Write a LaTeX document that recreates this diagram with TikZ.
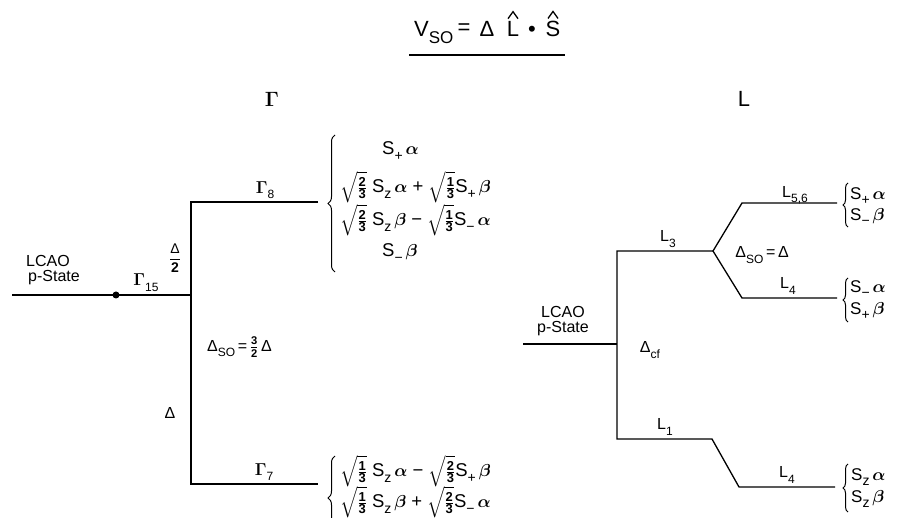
\documentclass[tikz,border=0pt]{standalone}
\usepackage{fontspec}
\usepackage{amsmath}
\setmainfont{Liberation Sans}
\usetikzlibrary{decorations.pathreplacing}
\newcommand\sub[1]{\raisebox{-0.32em}{\fontsize{12}{12}\selectfont #1}}
\newcommand\fsub[1]{\raisebox{-0.3em}{\fontsize{14}{14}\selectfont #1}}
\newcommand\Splus{S\fsub{+}}
\newcommand\Sminus{S\fsub{−}}
\newcommand\Szz{S\fsub{z}}
\newcommand\al{$\boldsymbol{\alpha}$}
\newcommand\be{$\boldsymbol{\beta}$}
\newcommand\Gm{$\boldsymbol{\Gamma}$}
\newcommand\gp{\hspace{5pt}}
\newcommand\sg{\hspace{3pt}}
\newcommand\rt[2]{$\sqrt{\tfrac{\text{\bfseries #1}}{\text{\bfseries #2}}}$}
\begin{document}
\begin{tikzpicture}[x=1pt,y=-1pt,
  every node/.style={font=\fontsize{16}{17}\selectfont, inner sep=1pt},
  frm/.style={font=\fontsize{18.5}{19}\selectfont, anchor=west},
  rfrm/.style={font=\fontsize{17}{18}\selectfont, anchor=west},
  lvl/.style={line width=1.3pt},
  br/.style={decorate, decoration={brace, amplitude=6pt}, line width=1pt},
  hdr/.style={font=\fontsize{22}{24}\selectfont},
  ttl/.style={font=\fontsize{22}{24}\selectfont, anchor=base, inner sep=0pt}]
\useasboundingbox (0,0) rectangle (899,518);

% title
\node[ttl, anchor=base west] (tV) at (414,37) {V\raisebox{-0.3em}{\fontsize{17}{17}\selectfont SO}};
\node[ttl] (tEq) at (464,35) {=};
\node[ttl] (tD) at (487,37) {Δ};
\node[ttl] (tL) at (513,37) {L};
\node[ttl] (tDot) at (532,37) {•};
\node[ttl] (tS) at (553,37) {S};
\coordinate (ul1) at (409,55);
\coordinate (ul2) at (565,55);
\draw[lvl] (ul1) -- (ul2);
\draw[line width=1.3pt] ([xshift=-5pt,yshift=3pt]tL.north) -- ([yshift=10pt]tL.north) -- ([xshift=5pt,yshift=3pt]tL.north);
\draw[line width=1.3pt] ([xshift=-5pt,yshift=3pt]tS.north) -- ([yshift=10pt]tS.north) -- ([xshift=5pt,yshift=3pt]tS.north);

\node[hdr] (gam) at (272,99) {\Gm};
\node[hdr] (ell) at (744,99) {L};

% ---------------- left diagram
\coordinate (L0) at (12,295);
\coordinate (Lj) at (191,295);
\coordinate (G8a) at (191,202);
\coordinate (G8b) at (318,202);
\coordinate (G7a) at (191,484);
\coordinate (G7b) at (318,484);
\draw[lvl] (L0) -- (Lj);
\draw[lvl] (G8b) -- (G8a) -- (G7a) -- (G7b);
\node[circle, fill, inner sep=0pt, minimum size=7pt] (dot) at (116,295) {};

\node[anchor=base west] (lcaoA) at (25,267) {LCAO};
\node[anchor=base west] (lcaoB) at (27,282) {p-State};
\node[anchor=base] (g15) at (146,286) {\Gm\sub{15}};
\node[font=\fontsize{14}{15}\selectfont] (half) at (175,258) {$\dfrac{\text{Δ}}{\text{\bfseries 2}}$};
\node (g8) at (265,190) {\Gm\sub{8}};
\node (g7) at (264,472) {\Gm\sub{7}};
\node[anchor=west] (dso) at (206,347) {Δ\sub{SO}\,=\,$\tfrac{\text{\bfseries 3}}{\text{\bfseries 2}}$\,Δ};
\node (dl) at (170,413) {Δ};

\node[frm] (a1) at (381,151) {\Splus\sg\al};
\node[frm] (a2) at (339,187) {\rt23\gp\Szz\sg\al\gp+\gp\rt13\Splus\sg\be};
\node[frm] (a3) at (339,220) {\rt23\gp\Szz\sg\be\gp−\gp\rt13\Sminus\sg\al};
\node[frm] (a4) at (381,253) {\Sminus\sg\be};
\coordinate (bA1) at (335,272);
\coordinate (bA2) at (335,135);
\draw[br, decoration={amplitude=7pt}] (bA1) -- (bA2);

\node[frm] (b1) at (339,471) {\rt13\gp\Szz\sg\al\gp−\gp\rt23\Splus\sg\be};
\node[frm] (b2) at (339,502) {\rt13\gp\Szz\sg\be\gp+\gp\rt23\Sminus\sg\al};
\coordinate (bB1) at (335,540);
\coordinate (bB2) at (335,456);
\draw[br, decoration={amplitude=7pt}] (bB1) -- (bB2);

% ---------------- right diagram
\coordinate (R0) at (523,344);
\coordinate (Rj) at (617,344);
\coordinate (L3a) at (617,251);
\coordinate (L3b) at (713,251);
\coordinate (L56a) at (742,203);
\coordinate (L56b) at (837,203);
\coordinate (L4a) at (742,298);
\coordinate (L4b) at (837,298);
\coordinate (L1a) at (617,439);
\coordinate (L1b) at (712,439);
\coordinate (L4c) at (739,487);
\coordinate (L4d) at (835,487);
\draw[lvl] (R0) -- (Rj);
\draw[lvl] (L3b) -- (L3a) -- (L1a) -- (L1b) -- (L4c) -- (L4d);
\draw[lvl] (L56b) -- (L56a) -- (L3b) -- (L4a) -- (L4b);

\node (rlA) at (563,312) {LCAO};
\node (rlB) at (563,329) {p-State};
\node (l3) at (668,239) {L\sub{3}};
\node (dcf) at (650,350) {Δ\sub{cf}};
\node (l56) at (795,195) {L\sub{5,6}};
\node (l4u) at (788,286) {L\sub{4}};
\node (dso2) at (762,255) {Δ\sub{SO}\,=\,Δ};
\node (l1) at (665,427) {L\sub{1}};
\node (l4d) at (787,475) {L\sub{4}};

\coordinate (c1) at (848,227);
\coordinate (c2) at (848,183);
\draw[br, decoration={amplitude=5pt}] (c1) -- (c2);
\node[rfrm] (r1) at (849,196) {\Splus\,\al};
\node[rfrm] (r2) at (849,217) {\Sminus\,\be};

\coordinate (c3) at (848,322);
\coordinate (c4) at (848,278);
\draw[br, decoration={amplitude=5pt}] (c3) -- (c4);
\node[rfrm] (r3) at (849,289) {\Sminus\,\al};
\node[rfrm] (r4) at (849,311) {\Splus\,\be};

\coordinate (c5) at (848,512);
\coordinate (c6) at (848,464);
\draw[br, decoration={amplitude=5pt}] (c5) -- (c6);
\node[rfrm] (r5) at (850,477) {\Szz\,\al};
\node[rfrm] (r6) at (850,499) {\Szz\,\be};
\end{tikzpicture}
\end{document}
